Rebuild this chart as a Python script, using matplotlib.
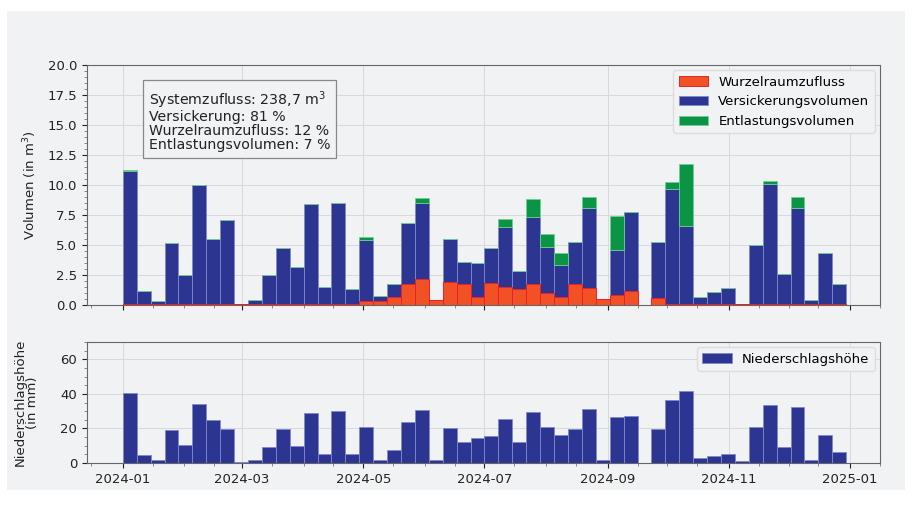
import matplotlib
matplotlib.use("Agg")
import matplotlib.pyplot as plt
import matplotlib.dates as mdates
import numpy as np
import pandas as pd
from matplotlib.patches import Rectangle
from matplotlib.ticker import AutoMinorLocator

# weekly values, weeks starting 2024-01-01
weeks = pd.date_range("2024-01-01", periods=52, freq="7D")

wurzelraum = [0.12, 0.12, 0.12, 0.12, 0.12, 0.12, 0.12, 0.12, 0.10, 0.12,
              0.12, 0.12, 0.12, 0.12, 0.12, 0.12, 0.12, 0.36, 0.33, 0.64,
              1.72, 2.17, 0.42, 1.94, 1.72, 0.69, 1.80, 1.53, 1.30, 1.72,
              0.97, 0.70, 1.72, 1.39, 0.47, 0.83, 1.17, 0.00, 0.56, 0.12,
              0.12, 0.12, 0.12, 0.12, 0.10, 0.12, 0.12, 0.12, 0.12, 0.12,
              0.12, 0.12]
versickerung = [11.05, 1.05, 0.21, 5.08, 2.38, 9.88, 5.38, 6.96, 0.00, 0.30,
                2.38, 4.66, 3.05, 8.28, 1.38, 8.38, 1.21, 5.04, 0.42, 1.11,
                5.08, 6.30, 0.00, 3.56, 1.88, 2.84, 2.98, 4.97, 1.53, 5.64,
                3.83, 2.60, 3.50, 6.71, 0.00, 3.75, 6.58, 0.00, 4.72, 9.52,
                6.46, 0.58, 0.98, 1.27, 0.00, 4.88, 9.96, 2.44, 7.94, 0.30,
                4.18, 1.63]
entlastung = [0.08, 0, 0, 0, 0, 0, 0, 0, 0, 0,
              0, 0, 0, 0, 0, 0, 0, 0.30, 0, 0,
              0, 0.43, 0, 0, 0, 0, 0, 0.70, 0, 1.44,
              1.12, 1.06, 0, 0.93, 0, 2.86, 0, 0, 0, 0.61,
              5.17, 0, 0, 0, 0, 0, 0.28, 0, 0.97, 0,
              0, 0]
niederschlag = [40.6, 4.6, 1.6, 18.9, 10.6, 34.3, 25.0, 19.6, 0.8, 1.9,
                9.1, 19.6, 9.8, 28.9, 5.0, 29.8, 5.0, 20.6, 1.9, 7.7,
                23.5, 30.8, 1.6, 20.2, 12.1, 14.5, 15.4, 25.2, 12.1, 29.4,
                20.8, 16.0, 19.4, 31.0, 1.9, 26.4, 27.1, 0.0, 19.8, 36.2,
                41.4, 2.9, 4.0, 5.0, 1.2, 20.8, 33.5, 9.1, 32.3, 1.9,
                16.0, 6.2]

info = ["Systemzufluss: 238,7 m$^3$",
        "Versickerung: 81 %",
        "Wurzelraumzufluss: 12 %",
        "Entlastungsvolumen: 7 %"]

bg = "#f1f2f4"
c_orange = "#f15124"
c_blue = "#2d3593"
c_green = "#0b9346"

plt.rcParams["font.family"] = "DejaVu Sans"
plt.rcParams["font.size"] = 9

fig = plt.figure(figsize=(9.15, 5.19), dpi=100, facecolor="white")
fig.patches.append(Rectangle((7/915, 1-490/519), 898/915, 479/519,
                             transform=fig.transFigure, facecolor=bg,
                             edgecolor="none", zorder=-10))

ax1 = fig.add_axes([87/915, 1-305/519, 793/915, 240/519])
ax2 = fig.add_axes([87/915, 1-463/519, 793/915, 121/519], sharex=ax1)

o = np.array(wurzelraum)
v = np.array(versickerung)
e = np.array(entlastung)
b_v = ax1.bar(weeks, v, width=7, align="edge", bottom=o, color=c_blue,
              edgecolor="#7f88cc", linewidth=0.6, label="Versickerungsvolumen", zorder=2)
b_e = ax1.bar(weeks, e, width=7, align="edge", bottom=o+v, color=c_green,
              edgecolor="#6fcf8f", linewidth=0.6, label="Entlastungsvolumen", zorder=2)
b_o = ax1.bar(weeks, o, width=7, align="edge", color=c_orange,
              edgecolor="#e8202a", linewidth=0.7, label="Wurzelraumzufluss", zorder=3)

ax2.bar(weeks, niederschlag, width=7, align="edge", color=c_blue,
        edgecolor="#7f88cc", linewidth=0.6, label="Niederschlagshöhe")

ax1.set_ylim(0, 20)
ax1.set_yticks(np.arange(0, 20.1, 2.5))
ax1.yaxis.set_major_formatter(matplotlib.ticker.FormatStrFormatter("%.1f"))
ax2.set_ylim(0, 70)
ax2.set_yticks([0, 20, 40, 60])

for ax in (ax1, ax2):
    ax.set_facecolor(bg)
    ax.xaxis.set_major_locator(mdates.MonthLocator(bymonth=[1, 3, 5, 7, 9, 11]))
    ax.xaxis.set_major_formatter(mdates.DateFormatter("%Y-%m"))
    ax.xaxis.set_minor_locator(mdates.DayLocator(bymonthday=[1, 16]))
    ax.yaxis.set_minor_locator(AutoMinorLocator())
    ax.grid(True, which="major", color="#d9d9d9", linewidth=0.7)
    ax.set_axisbelow(True)
    for s in ax.spines.values():
        s.set_color("#666666")
    ax.tick_params(colors="#222222", labelsize=9.5)
    ax.tick_params(which="minor", color="#777777")

plt.setp(ax1.get_xticklabels(), visible=False)
ax1.set_xlim(pd.Timestamp("2023-12-14"), pd.Timestamp("2025-01-16"))

ax1.set_ylabel("Volumen (in m$^3$)", fontsize=9.5, color="#222222")
ax2.set_ylabel("Niederschlagshöhe\n(in mm)", fontsize=9.5, color="#222222",
               linespacing=0.95)
ax1.yaxis.set_label_coords(-0.06, 0.5)
ax2.yaxis.set_label_coords(-0.06, 0.5)

ax1.text(0.078, 0.9, "\n".join(info), transform=ax1.transAxes,
         fontsize=10.2, va="top", ha="left", color="#222222", linespacing=0.98,
         bbox=dict(boxstyle="square,pad=0.4", facecolor=bg,
                   edgecolor="#888888", linewidth=0.9))

ax1.legend(handles=[b_o, b_v, b_e], loc="upper right", fontsize=9.5,
           facecolor=bg, edgecolor="#dddddd", framealpha=1,
           handlelength=2.2, borderaxespad=0.4)
ax2.legend(loc="upper right", fontsize=9.5, facecolor=bg, edgecolor="#dddddd",
           framealpha=1, handlelength=2.2, borderaxespad=0.4)

fig.savefig("out.png", dpi=100, facecolor="white")
